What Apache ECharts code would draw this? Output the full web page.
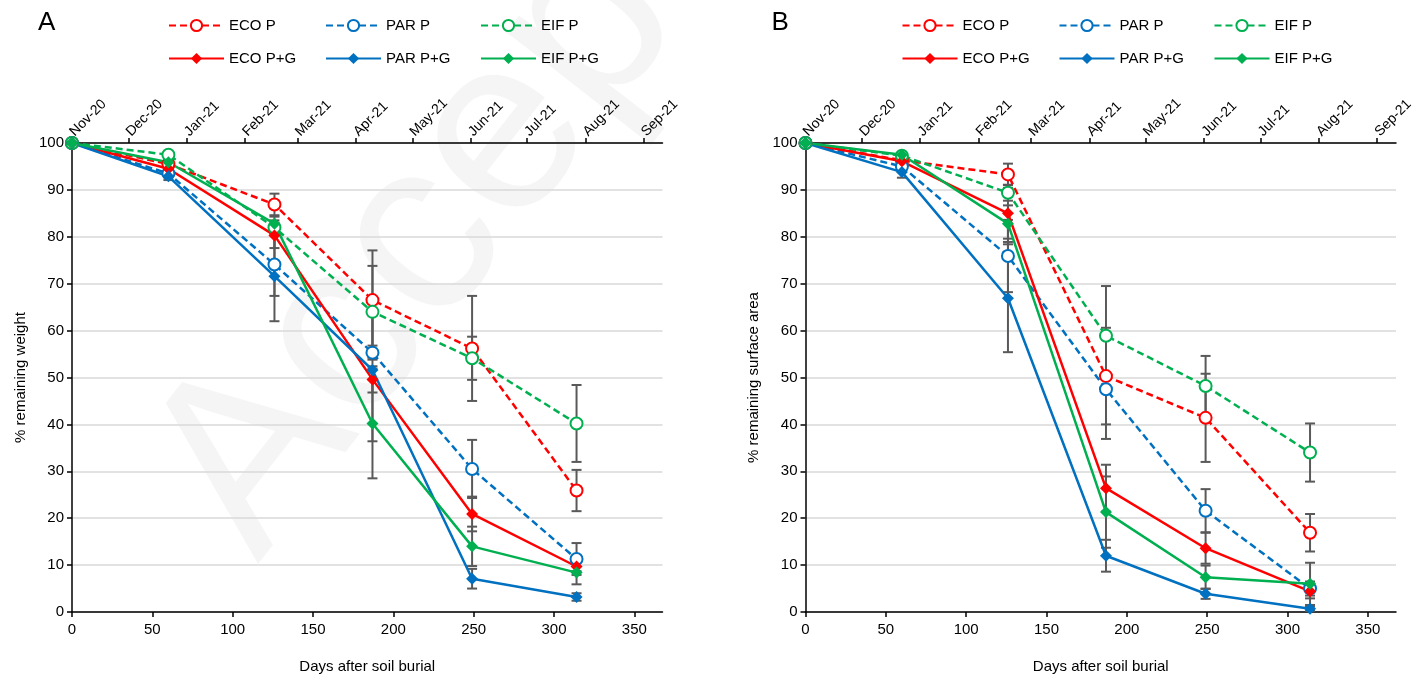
<!DOCTYPE html>
<html><head><meta charset="utf-8">
<script src="https://cdn.jsdelivr.net/npm/echarts@6/dist/echarts.min.js"></script>
<style>html,body{margin:0;padding:0;background:#fff}#c{width:1419px;height:679px}</style>
</head><body><div id="c"></div>
<script>
// ---------- data ----------
const days = [0, 60, 126, 187, 249, 314];
const monthLabels = ['Nov-20','Dec-20','Jan-21','Feb-21','Mar-21','Apr-21','May-21','Jun-21','Jul-21','Aug-21','Sep-21'];
const monthDays = [0, 30, 61, 92, 120, 151, 181, 212, 242, 273, 304];
const dayTicks = [0, 50, 100, 150, 200, 250, 300, 350];
const seriesNames = ['ECO P', 'PAR P', 'EIF P', 'ECO P+G', 'PAR P+G', 'EIF P+G'];

// Panel A: % remaining weight
const A_ECO_P  = [100, 95.5, 86.9, 66.5, 56.2, 25.9];
const A_PAR_P  = [100, 93.5, 74.1, 55.3, 30.5, 11.3];
const A_EIF_P  = [100, 97.5, 82.0, 64.0, 54.1, 40.2];
const A_ECO_PG = [100, 94.5, 80.3, 49.6, 20.9, 9.7];
const A_PAR_PG = [100, 92.9, 71.6, 51.6, 7.1, 3.2];
const A_EIF_PG = [100, 95.9, 82.8, 40.2, 14.0, 8.4];
const A_ECO_P_err  = [0, 0.5, 2.3, 10.6, 11.2, 4.4];
const A_PAR_P_err  = [0, 0.5, 6.7, 1.5, 6.2, 3.4];
const A_EIF_P_err  = [0, 0.5, 1.5, 9.8, 4.6, 8.2];
const A_ECO_PG_err = [0, 0.5, 2.7, 2.8, 3.7, 1.0];
const A_PAR_PG_err = [0, 0.8, 9.6, 15.2, 2.1, 0.8];
const A_EIF_PG_err = [0, 0.5, 1.5, 11.7, 4.2, 2.5];

// Panel B: % remaining surface area
const B_ECO_P  = [100, 96.3, 93.3, 50.3, 41.4, 16.9];
const B_PAR_P  = [100, 95.0, 75.9, 47.5, 21.6, 5.0];
const B_EIF_P  = [100, 97.3, 89.4, 58.9, 48.2, 34.0];
const B_ECO_PG = [100, 96.1, 85.0, 26.4, 13.6, 4.4];
const B_PAR_PG = [100, 93.8, 66.9, 12.0, 3.9, 0.7];
const B_EIF_PG = [100, 97.5, 82.8, 21.3, 7.4, 6.0];
const B_ECO_P_err  = [0, 0.5, 2.3, 10.3, 9.4, 4.0];
const B_PAR_P_err  = [0, 0.8, 7.7, 10.6, 4.6, 1.5];
const B_EIF_P_err  = [0, 0.5, 1.7, 10.6, 6.4, 6.2];
const B_ECO_PG_err = [0, 0.5, 5.4, 5.0, 3.3, 1.5];
const B_PAR_PG_err = [0, 1.2, 11.5, 3.4, 1.1, 0.5];
const B_EIF_PG_err = [0, 0.5, 3.9, 7.6, 2.5, 4.5];

// ---------- styles ----------
const FONT = 'Liberation Sans';
const colors = ['#FF0000', '#0070C0', '#00B050', '#FF0000', '#0070C0', '#00B050'];
const dashed = [true, true, true, false, false, false];
const legendCols = [168, 325, 480];
const legendRows = [18, 51];

const panels = [
  { vals: [A_ECO_P, A_PAR_P, A_EIF_P, A_ECO_PG, A_PAR_PG, A_EIF_PG],
    errs: [A_ECO_P_err, A_PAR_P_err, A_EIF_P_err, A_ECO_PG_err, A_PAR_PG_err, A_EIF_PG_err],
    yName: '% remaining weight', left: 72, label: 'A' },
  { vals: [B_ECO_P, B_PAR_P, B_EIF_P, B_ECO_PG, B_PAR_PG, B_EIF_PG],
    errs: [B_ECO_P_err, B_PAR_P_err, B_EIF_P_err, B_ECO_PG_err, B_PAR_PG_err, B_EIF_PG_err],
    yName: '% remaining surface area', left: 805.5, label: 'B' }
];

const grid = [], xAxis = [], yAxis = [], series = [], legend = [], graphic = [];
const axisLineStyle = { color: '#000', width: 1.5 };

panels.forEach((p, pi) => {
  grid.push({ left: p.left, top: 143, width: 590.5, height: 470 });
  xAxis.push({
    gridIndex: pi, type: 'value', position: 'bottom', min: 0, max: 367.5,
    name: 'Days after soil burial', nameLocation: 'middle', nameGap: 47,
    nameTextStyle: { fontFamily: FONT, fontSize: 15, color: '#000' },
    axisLine: { show: true, onZero: false, lineStyle: axisLineStyle },
    axisTick: { show: true, length: 5, lineStyle: axisLineStyle, customValues: dayTicks },
    axisLabel: { fontFamily: FONT, fontSize: 15, color: '#000', margin: 10, customValues: dayTicks },
    splitLine: { show: false }
  });
  xAxis.push({
    gridIndex: pi, type: 'value', position: 'top', min: 0, max: 314,
    axisLine: { show: true, onZero: false, lineStyle: axisLineStyle },
    axisTick: { show: true, length: 5, lineStyle: axisLineStyle, customValues: monthDays },
    axisLabel: { fontFamily: FONT, fontSize: 14, color: '#000', rotate: -45, margin: 9,
      customValues: monthDays,
      formatter: v => { const k = monthDays.indexOf(v); return k >= 0 ? monthLabels[k] : ''; } },
    splitLine: { show: false }
  });
  yAxis.push({
    gridIndex: pi, type: 'value', min: 0, max: 100, interval: 10,
    name: p.yName, nameLocation: 'middle', nameGap: 44,
    nameTextStyle: { fontFamily: FONT, fontSize: 15, color: '#000' },
    axisLine: { show: true, onZero: false, lineStyle: axisLineStyle },
    axisTick: { show: true, length: 5, lineStyle: axisLineStyle },
    axisLabel: { fontFamily: FONT, fontSize: 15, color: '#000', margin: 8 },
    splitLine: { show: true, lineStyle: { color: '#D9D9D9', width: 1.5 } }
  });

  // error bars first (drawn below lines)
  p.errs.forEach((err, si) => {
    const vals = p.vals[si];
    const data = [];
    days.forEach((d, i) => { if (err[i] > 0) data.push([d, vals[i] - err[i], vals[i] + err[i]]); });
    series.push({
      type: 'custom', xAxisIndex: pi * 2, yAxisIndex: pi, silent: true, z: 1,
      encode: { x: 0, y: [1, 2] }, data,
      renderItem: (params, api) => {
        const x = api.value(0);
        const lo = api.coord([x, api.value(1)]);
        const hi = api.coord([x, api.value(2)]);
        const w = 5, st = { stroke: '#595959', lineWidth: 2 };
        return { type: 'group', children: [
          { type: 'line', shape: { x1: lo[0], y1: lo[1], x2: hi[0], y2: hi[1] }, style: st },
          { type: 'line', shape: { x1: lo[0] - w, y1: lo[1], x2: lo[0] + w, y2: lo[1] }, style: st },
          { type: 'line', shape: { x1: hi[0] - w, y1: hi[1], x2: hi[0] + w, y2: hi[1] }, style: st }
        ] };
      }
    });
  });

  p.vals.forEach((vals, si) => {
    series.push({
      name: seriesNames[si], type: 'line', xAxisIndex: pi * 2, yAxisIndex: pi, z: 3,
      data: days.map((d, i) => [d, vals[i]]),
      symbol: dashed[si] ? 'emptyCircle' : 'diamond',
      symbolSize: dashed[si] ? 12 : 12,
      showAllSymbol: true, clip: false,
      lineStyle: { color: colors[si], width: 2.5, type: dashed[si] ? [7, 4] : 'solid' },
      itemStyle: { color: colors[si], borderColor: colors[si], borderWidth: dashed[si] ? 1.5 : 0 },
      emphasis: { disabled: true }
    });
  });

  const off = p.left - 72;
  seriesNames.forEach((nm, si) => {
    legend.push({
      data: [nm], left: legendCols[si % 3] + off, top: legendRows[Math.floor(si / 3)],
      padding: 0, itemWidth: 55, itemHeight: 14, itemGap: 0,
      textStyle: { fontFamily: FONT, fontSize: 15, color: '#000', padding: [0, 0, 0, 0] },
      selectedMode: false
    });
  });
  graphic.push({ type: 'text', left: 38 + off, top: 10,
    style: { text: p.label, font: '26px ' + FONT, fill: '#000' } });
});

// faint watermark
graphic.push({ type: 'text', x: 105, y: 445, rotation: 52 * Math.PI / 180, z: -10, silent: true,
  style: { text: 'Accepted', font: '250px ' + FONT, fill: 'rgba(0,0,0,0.04)' } });

const chart = echarts.init(document.getElementById('c'), null, { renderer: 'canvas' });
chart.setOption({ animation: false, backgroundColor: '#fff', grid, xAxis, yAxis, series, legend, graphic });
</script>
</body></html>
